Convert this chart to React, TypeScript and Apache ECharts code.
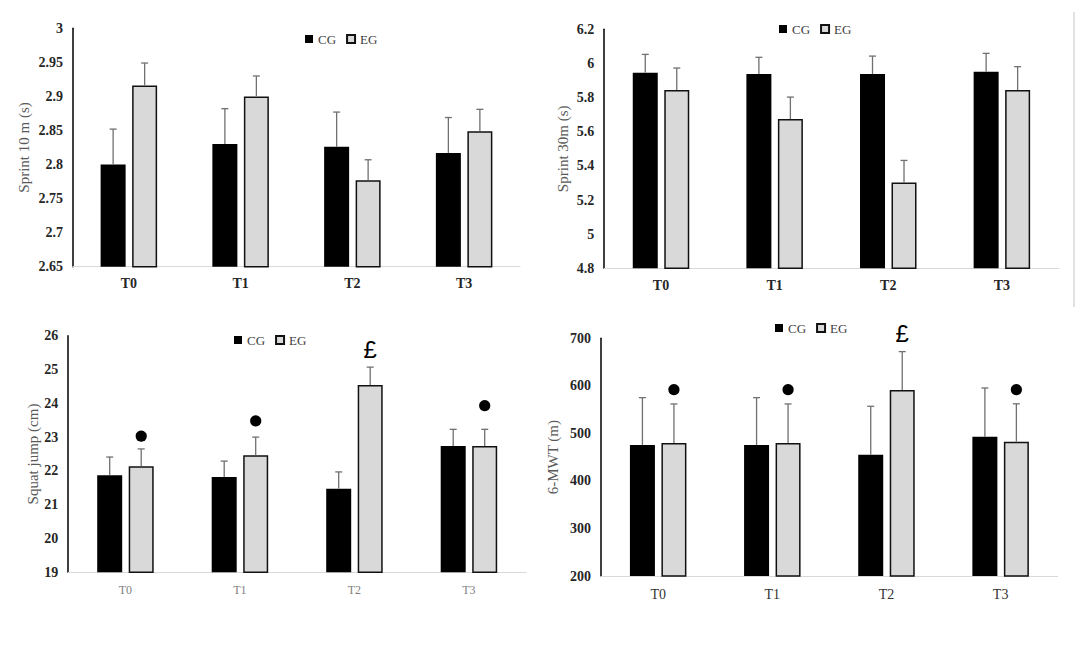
import React, { useEffect, useRef } from "react";
import * as echarts from "echarts";

// ---------- data ----------
const categories = ["T0", "T1", "T2", "T3"];

const sprint10CG = [2.8, 2.83, 2.826, 2.817];
const sprint10CGSD = [0.052, 0.052, 0.051, 0.052];
const sprint10EG = [2.916, 2.9, 2.777, 2.849];
const sprint10EGSD = [0.033, 0.03, 0.03, 0.032];

const sprint30CG = [5.945, 5.938, 5.938, 5.951];
const sprint30CGSD = [0.108, 0.098, 0.105, 0.108];
const sprint30EG = [5.844, 5.674, 5.303, 5.844];
const sprint30EGSD = [0.129, 0.129, 0.129, 0.137];

const squatCG = [21.87, 21.82, 21.47, 22.74];
const squatCGSD = [0.54, 0.47, 0.5, 0.49];
const squatEG = [22.14, 22.46, 24.54, 22.74];
const squatEGSD = [0.51, 0.54, 0.53, 0.49];
const squatMarks = ["●", "●", "£", "●"];
const squatMarkY = [23.03, 23.48, 25.58, 23.93];

const mwtCG = [475.6, 475.6, 455.3, 493.1];
const mwtCGSD = [99.6, 99.6, 101.7, 102.4];
const mwtEG = [479.8, 479.8, 591.3, 482.6];
const mwtEGSD = [82.1, 82.1, 80.7, 79.6];
const mwtMarks = ["●", "●", "£", "●"];
const mwtMarkY = [592, 592, 710, 592];

// ---------- layout / style ----------
const SERIF = "'Liberation Serif', 'Times New Roman', serif";
const BAR_W = 25;
const BAR_GAP = 0.26;
const OFFSET = (BAR_W * (1 + BAR_GAP)) / 2;
const ERR_COLOR = "#707070";

type Panel = {
  cg: number[]; cgSd: number[]; eg: number[]; egSd: number[];
  marks?: string[]; markY?: number[];
  min: number; max: number; interval: number;
  title: string; nameGap: number;
  grid: { left: number; top: number; width: number; height: number };
  legend: { left: number; top: number };
  xLabel: any;
};

const boldX = { fontFamily: SERIF, fontWeight: "bold", fontSize: 14, color: "#262626", margin: 10 };

const panels: Panel[] = [
  {
    cg: sprint10CG, cgSd: sprint10CGSD, eg: sprint10EG, egSd: sprint10EGSD,
    min: 2.65, max: 3, interval: 0.05, title: "Sprint 10 m (s)", nameGap: 42,
    grid: { left: 73, top: 28.3, width: 447, height: 238.4 },
    legend: { left: 305, top: 32.5 },
    xLabel: boldX,
  },
  {
    cg: sprint30CG, cgSd: sprint30CGSD, eg: sprint30EG, egSd: sprint30EGSD,
    min: 4.8, max: 6.2, interval: 0.2, title: "Sprint 30m (s)", nameGap: 34,
    grid: { left: 604.2, top: 29.3, width: 454.5, height: 239 },
    legend: { left: 779, top: 22.5 },
    xLabel: boldX,
  },
  {
    cg: squatCG, cgSd: squatCGSD, eg: squatEG, egSd: squatEGSD,
    marks: squatMarks, markY: squatMarkY,
    min: 19, max: 26, interval: 1, title: "Squat jump (cm)", nameGap: 28,
    grid: { left: 68.2, top: 335.7, width: 458, height: 236.6 },
    legend: { left: 234, top: 333.5 },
    xLabel: { fontFamily: SERIF, fontSize: 12, color: "#7f7f7f", margin: 12 },
  },
  {
    cg: mwtCG, cgSd: mwtCGSD, eg: mwtEG, egSd: mwtEGSD,
    marks: mwtMarks, markY: mwtMarkY,
    min: 200, max: 700, interval: 100, title: "6-MWT (m)", nameGap: 41,
    grid: { left: 601.1, top: 338.3, width: 456.6, height: 237.7 },
    legend: { left: 775, top: 321.5 },
    xLabel: { fontFamily: SERIF, fontSize: 14, color: "#333", margin: 11 },
  },
];

function errRender(offset: number) {
  return (params: any, api: any) => {
    const i = api.value(0);
    const p0 = api.coord([i, api.value(1)]);
    const p1 = api.coord([i, api.value(2)]);
    const x = p0[0] + offset;
    const st = { stroke: ERR_COLOR, lineWidth: 1.3 };
    return {
      type: "group",
      children: [
        { type: "line", shape: { x1: x, y1: p0[1], x2: x, y2: p1[1] }, style: st },
        { type: "line", shape: { x1: x - 3.5, y1: p1[1], x2: x + 3.5, y2: p1[1] }, style: st },
      ],
    };
  };
}

function markRender(marks: string[]) {
  return (params: any, api: any) => {
    const p = api.coord([api.value(0), api.value(1)]);
    const x = p[0] + OFFSET;
    const m = marks[params.dataIndex];
    if (m === "●") {
      return { type: "circle", shape: { cx: x, cy: p[1], r: 5.6 }, style: { fill: "#000" } };
    }
    return {
      type: "text",
      x,
      y: p[1],
      style: {
        text: m,
        fontSize: 24,
        fontFamily: "'Liberation Sans', Arial, sans-serif",
        fill: "#000",
        align: "center",
        verticalAlign: "middle",
      },
    };
  };
}

function buildOption() {
  const grid: any[] = [];
  const xAxis: any[] = [];
  const yAxis: any[] = [];
  const legend: any[] = [];
  const series: any[] = [];

  panels.forEach((p, k) => {
    grid.push({ ...p.grid, containLabel: false });
    xAxis.push({
      type: "category",
      gridIndex: k,
      data: categories,
      axisLine: { lineStyle: { color: "#d9d9d9", width: 1 } },
      axisTick: { show: false },
      axisLabel: p.xLabel,
    });
    yAxis.push({
      type: "value",
      gridIndex: k,
      min: p.min,
      max: p.max,
      interval: p.interval,
      name: p.title,
      nameLocation: "middle",
      nameGap: p.nameGap,
      nameRotate: 90,
      nameTextStyle: { fontFamily: SERIF, fontSize: 15, color: "#595959" },
      axisLine: { show: true, lineStyle: { color: "#000", width: 1.5 } },
      axisTick: { show: false },
      splitLine: { show: false },
      axisLabel: { fontFamily: SERIF, fontWeight: "bold", fontSize: 14, color: "#262626", margin: 10 },
    });
    legend.push({
      left: p.legend.left,
      top: p.legend.top,
      padding: 0,
      data: ["CG", "EG"],
      itemWidth: 8,
      itemHeight: 8,
      itemGap: 10,
      icon: "rect",
      textStyle: { fontFamily: SERIF, fontSize: 13, color: "#404040" },
      selectedMode: false,
    });
    series.push({
      type: "bar",
      name: "CG",
      xAxisIndex: k,
      yAxisIndex: k,
      data: p.cg,
      barWidth: BAR_W,
      barGap: `${BAR_GAP * 100}%`,
      itemStyle: { color: "#000" },
    });
    series.push({
      type: "bar",
      name: "EG",
      xAxisIndex: k,
      yAxisIndex: k,
      data: p.eg,
      barWidth: BAR_W,
      barGap: `${BAR_GAP * 100}%`,
      itemStyle: { color: "#d9d9d9", borderColor: "#111", borderWidth: 1.5 },
    });
    series.push({
      type: "custom",
      xAxisIndex: k,
      yAxisIndex: k,
      data: p.cg.map((v, i) => [i, v, v + p.cgSd[i]]),
      encode: { x: 0, y: [1, 2] },
      renderItem: errRender(-OFFSET),
      z: 3,
    });
    series.push({
      type: "custom",
      xAxisIndex: k,
      yAxisIndex: k,
      data: p.eg.map((v, i) => [i, v, v + p.egSd[i]]),
      encode: { x: 0, y: [1, 2] },
      renderItem: errRender(OFFSET),
      z: 3,
    });
    if (p.marks && p.markY) {
      series.push({
        type: "custom",
        xAxisIndex: k,
        yAxisIndex: k,
        data: p.markY.map((v, i) => [i, v]),
        encode: { x: 0, y: 1 },
        renderItem: markRender(p.marks),
        clip: false,
        z: 4,
      });
    }
  });

  return {
    animation: false,
    backgroundColor: "#fff",
    grid,
    xAxis,
    yAxis,
    legend,
    series,
    graphic: [
      {
        type: "line",
        shape: { x1: 1074, y1: 12, x2: 1074, y2: 307 },
        style: { stroke: "#d9d9d9", lineWidth: 1.5 },
      },
    ],
  };
}

export default function App() {
  const ref = useRef<HTMLDivElement>(null);
  useEffect(() => {
    if (!ref.current) return;
    const chart = echarts.init(ref.current, undefined, { renderer: "svg" });
    chart.setOption(buildOption());
    return () => chart.dispose();
  }, []);
  return (
    <div
      ref={ref}
      style={{ position: "absolute", left: 0, top: 0, width: 1084, height: 659, background: "#fff" }}
    />
  );
}
